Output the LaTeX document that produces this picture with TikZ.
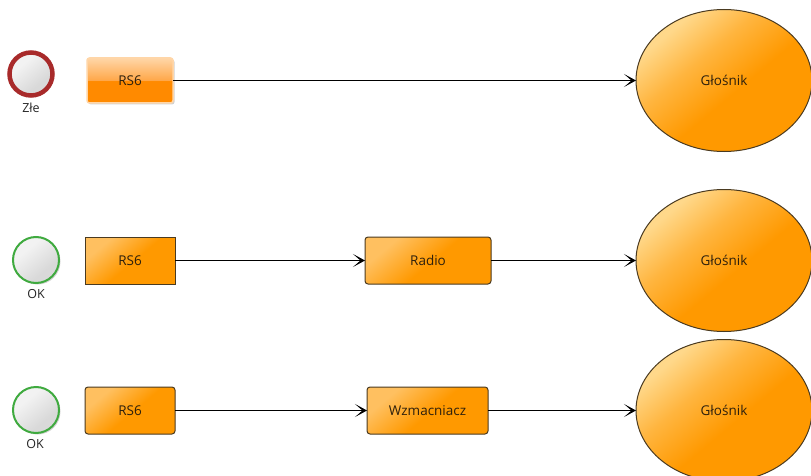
\documentclass[tikz,border=0pt]{standalone}
\usepackage{fontspec}
\setmainfont{Open Sans}
\usetikzlibrary{shadows,arrows.meta,shapes.geometric}
\definecolor{txt}{HTML}{2E200C}
\definecolor{edge}{HTML}{4A3A20}
\definecolor{mainor}{HTML}{FF9900}
\definecolor{midor}{HTML}{FFB53F}
\definecolor{lightor}{HTML}{FFD88A}
\definecolor{boxlight}{HTML}{FFC060}
\definecolor{glossa}{HTML}{FF8A00}
\definecolor{glossb}{HTML}{FFA84A}
\definecolor{glossc}{HTML}{FFD6A8}
\definecolor{ballA}{HTML}{D9D9D9}
\definecolor{ballB}{HTML}{F2F2F2}
\definecolor{okgreen}{HTML}{3FAA3F}
\definecolor{badred}{HTML}{A82A2A}
\pgfdeclareverticalshading{orangefade}{100bp}{
  color(0bp)=(mainor);
  color(25bp)=(mainor);
  color(45bp)=(mainor);
  color(60bp)=(midor);
  color(73bp)=(lightor);
  color(100bp)=(lightor)}
\pgfdeclareverticalshading{boxfade}{100bp}{
  color(0bp)=(mainor);
  color(48bp)=(mainor);
  color(72bp)=(boxlight);
  color(100bp)=(boxlight)}
\pgfdeclareverticalshading{glossy}{100bp}{
  color(0bp)=(glossa);
  color(49.5bp)=(glossa);
  color(50.5bp)=(glossb);
  color(75bp)=(glossc);
  color(100bp)=(glossc)}
\pgfdeclareverticalshading{ballfade}{100bp}{
  color(0bp)=(ballA);
  color(35bp)=(ballA);
  color(65bp)=(ballB);
  color(100bp)=(ballB)}
\tikzset{
  softshadow/.style={drop shadow={shadow xshift=1.5pt,shadow yshift=-1.5pt,opacity=.18,fill=black}},
  orangebox/.style={draw=edge,line width=1pt,shading=boxfade,shading angle=40,outer sep=0pt,inner sep=0pt,
    text=txt,font=\fontsize{13.5}{16}\selectfont},
  squarebox/.style={orangebox,minimum width=90pt,minimum height=47pt},
  roundbox/.style={orangebox,rounded corners=3pt,minimum height=47pt},
  glossbox/.style={draw=glossc,line width=1.5pt,shading=glossy,rounded corners=2.5pt,outer sep=0pt,inner sep=0pt,
    minimum width=86pt,minimum height=45pt,text=txt,font=\fontsize{13.5}{16}\selectfont,softshadow},
  speaker/.style={orangebox,shading=orangefade,ellipse,minimum width=176pt,minimum height=142pt},
  lamp/.style={circle,shading=ballfade,shading angle=40,outer sep=0pt,inner sep=0pt,softshadow},
  okLamp/.style={lamp,draw=okgreen,line width=2pt,minimum size=46pt},
  badLamp/.style={lamp,draw=badred,line width=4.5pt,minimum size=43pt},
  lamptext/.style={text=black!85,font=\fontsize{12.5}{14}\selectfont,inner sep=0pt},
  link/.style={draw=black,line width=1.2pt,-{Stealth[length=12pt,width=13pt,inset=7.5pt]}}
}
\begin{document}
\begin{tikzpicture}[x=1pt,y=-1pt]
\useasboundingbox (0,0) rectangle (811,476);
\clip (0,0) rectangle (811,476);
\node[badLamp] (l1) at (31,74) {};
\node[lamptext] (t1) at (31,108) {Złe};
\node[glossbox] (a1) at (130,80.5) {RS6\hspace{2pt}};
\node[speaker] (s1) at (724,80.5) {Głośnik};
\draw[link] (a1) -- (s1);

\node[okLamp] (l2) at (36,260) {};
\node[lamptext] (t2) at (36,294) {OK};
\node[squarebox] (a2) at (130,260.5) {RS6\hspace{2pt}};
\node[roundbox,minimum width=126pt] (b2) at (428,260.5) {Radio\hspace{2pt}};
\node[speaker] (s2) at (724,260.5) {Głośnik};
\draw[link] (a2) -- (b2);
\draw[link] (b2) -- (s2);

\node[okLamp] (l3) at (36,410) {};
\node[lamptext] (t3) at (35,444) {OK};
\node[roundbox,minimum width=90pt] (a3) at (130,410.5) {RS6\hspace{2pt}};
\node[roundbox,minimum width=121pt] (b3) at (427.5,410.5) {Wzmacniacz};
\node[speaker] (s3) at (724,410.5) {Głośnik};
\draw[link] (a3) -- (b3);
\draw[link] (b3) -- (s3);
\end{tikzpicture}
\end{document}
